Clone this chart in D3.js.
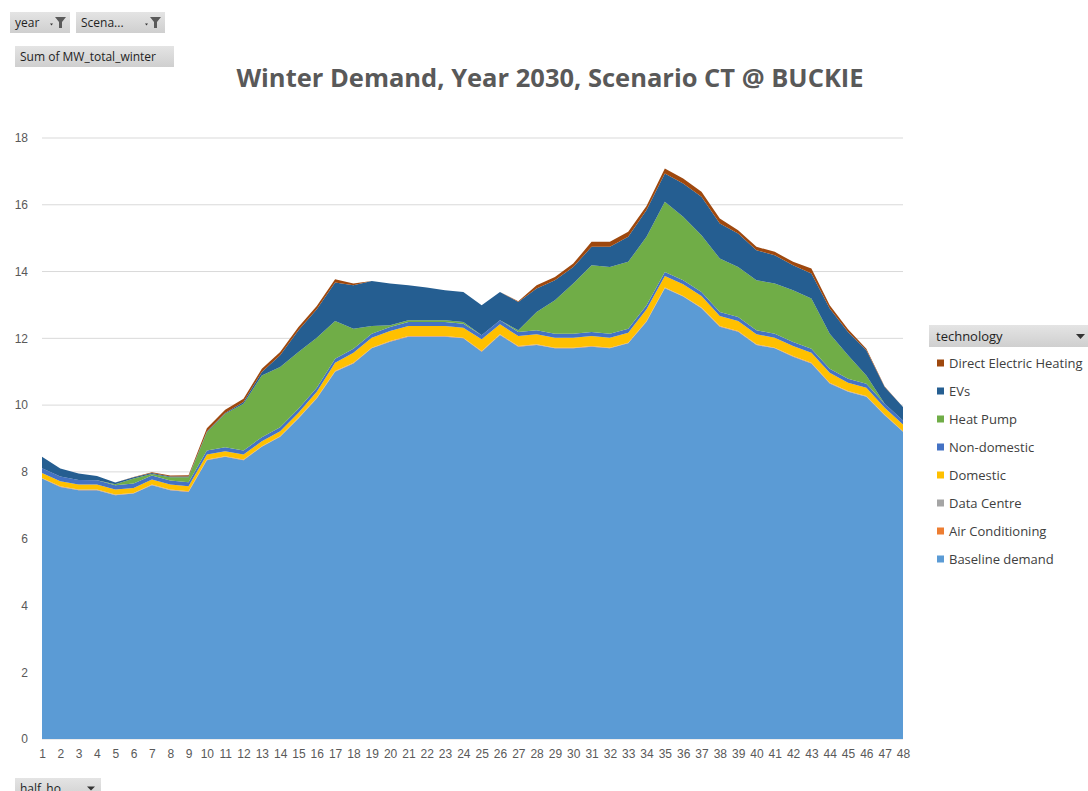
<!DOCTYPE html>
<html>
<head>
<meta charset="utf-8">
<script src="https://cdn.jsdelivr.net/npm/d3@7"></script>
<style>
  html, body { margin: 0; padding: 0; background: #fff; }
  body { width: 1088px; height: 791px; overflow: hidden; font-family: "Open Sans", "Noto Sans", sans-serif; }
</style>
</head>
<body>
<div id="chart"></div>
<script>
/* ====== Winter demand stacked area (vanilla D3) ====== */
(() => {
  const W = 1088, H = 791;

  // Data
  const halfHours = d3.range(1, 49);
  const technologies = ["Baseline demand", "Air Conditioning", "Data Centre", "Domestic",
    "Non-domestic", "Heat Pump", "EVs", "Direct Electric Heating"];
  const colors = ["#5b9bd5", "#ed7d31", "#a5a5a5", "#ffc000", "#4472c4", "#70ad47", "#255e91", "#9e480e"];
  const yTicks = [0, 2, 4, 6, 8, 10, 12, 14, 16, 18];

  const baseline = [7.8, 7.55, 7.45, 7.45, 7.3, 7.35, 7.6, 7.45, 7.4, 8.35, 8.45, 8.35, 8.75, 9.05, 9.6, 10.2,
    11.0, 11.25, 11.7, 11.9, 12.05, 12.05, 12.05, 12.0, 11.6, 12.1, 11.75, 11.8, 11.7, 11.7, 11.75, 11.7,
    11.85, 12.5, 13.5, 13.25, 12.9, 12.35, 12.2, 11.8, 11.7, 11.45, 11.25, 10.65, 10.4, 10.25, 9.7, 9.2];
  const airCon = halfHours.map(() => 0.01);
  const dataCentre = halfHours.map(() => 0.01);
  const domestic = [0.15, 0.15, 0.15, 0.15, 0.15, 0.15, 0.15, 0.15, 0.15, 0.15, 0.15, 0.15, 0.15, 0.15, 0.15, 0.18,
    0.25, 0.3, 0.3, 0.3, 0.3, 0.3, 0.3, 0.3, 0.35, 0.3, 0.3, 0.3, 0.3, 0.3, 0.3, 0.3,
    0.3, 0.35, 0.35, 0.35, 0.35, 0.3, 0.3, 0.3, 0.3, 0.3, 0.3, 0.3, 0.25, 0.25, 0.2, 0.2];
  const nonDomestic = [0.14, 0.14, 0.14, 0.13, 0.13, 0.13, 0.12, 0.12, 0.12, 0.12, 0.12, 0.12, 0.12, 0.12, 0.12, 0.12,
    0.12, 0.12, 0.12, 0.12, 0.12, 0.12, 0.12, 0.12, 0.12, 0.12, 0.12, 0.12, 0.12, 0.12, 0.12, 0.12,
    0.12, 0.12, 0.12, 0.12, 0.12, 0.12, 0.12, 0.12, 0.12, 0.12, 0.12, 0.12, 0.12, 0.12, 0.12, 0.12];
  const heatPump = [0, 0, 0, 0, 0.03, 0.15, 0.05, 0.1, 0.15, 0.55, 1.0, 1.4, 1.85, 1.8, 1.7, 1.5,
    1.13, 0.6, 0.23, 0.05, 0.05, 0.05, 0.05, 0.05, 0, 0, 0.05, 0.55, 1.0, 1.5, 2.0, 2.0,
    2.0, 2.05, 2.1, 1.9, 1.7, 1.6, 1.5, 1.5, 1.5, 1.55, 1.5, 1.05, 0.7, 0.25, 0, 0];
  const evs = [0.34, 0.24, 0.19, 0.13, 0.05, 0.04, 0.03, 0.02, 0.02, 0.02, 0.02, 0.05, 0.1, 0.35, 0.65, 0.85,
    1.15, 1.3, 1.35, 1.25, 1.05, 0.98, 0.9, 0.9, 0.9, 0.85, 0.85, 0.7, 0.6, 0.5, 0.55, 0.6,
    0.75, 0.8, 0.85, 1.0, 1.15, 1.05, 1.0, 0.9, 0.85, 0.75, 0.75, 0.75, 0.7, 0.75, 0.5, 0.4];
  const directElectric = [0, 0, 0, 0, 0, 0.01, 0.02, 0.03, 0.04, 0.1, 0.1, 0.1, 0.1, 0.1, 0.1, 0.1,
    0.1, 0.05, 0, 0, 0, 0, 0, 0, 0, 0, 0.02, 0.1, 0.1, 0.1, 0.15, 0.15,
    0.15, 0.12, 0.15, 0.15, 0.15, 0.15, 0.1, 0.1, 0.1, 0.1, 0.15, 0.1, 0.08, 0.05, 0.02, 0];

  const series = [baseline, airCon, dataCentre, domestic, nonDomestic, heatPump, evs, directElectric];
  const rows = halfHours.map((h, i) => {
    const r = { hh: h };
    technologies.forEach((t, k) => { r[t] = series[k][i]; });
    return r;
  });

  // Layout
  const plot = { left: 42, right: 903, top: 138, bottom: 739 };
  const x = d3.scalePoint().domain(halfHours).range([plot.left, plot.right]);
  const y = d3.scaleLinear().domain([0, 18]).range([plot.bottom, plot.top]);
  const color = d3.scaleOrdinal(technologies, colors);

  const svg = d3.select("#chart").append("svg")
    .attr("width", W).attr("height", H)
    .style("font-family", "'Open Sans', 'Noto Sans', sans-serif");

  const defs = svg.append("defs");
  const grad = defs.append("linearGradient").attr("id", "btn").attr("x1", 0).attr("x2", 0).attr("y1", 0).attr("y2", 1);
  grad.append("stop").attr("offset", "0%").attr("stop-color", "#e4e4e4");
  grad.append("stop").attr("offset", "100%").attr("stop-color", "#cfcfcf");

  // gridlines
  svg.append("g")
    .selectAll("line").data(yTicks).join("line")
    .attr("x1", plot.left).attr("x2", plot.right)
    .attr("y1", d => y(d)).attr("y2", d => y(d))
    .attr("stroke", "#d9d9d9").attr("stroke-width", 1);

  // areas
  const stack = d3.stack().keys(technologies);
  const layers = stack(rows);
  const area = d3.area()
    .x(d => x(d.data.hh))
    .y0(d => y(d[0]))
    .y1(d => y(d[1]));
  svg.append("g")
    .selectAll("path").data(layers).join("path")
    .attr("d", area)
    .attr("fill", d => color(d.key));

  // y axis
  const yAxis = svg.append("g")
    .attr("transform", `translate(${plot.left - 14},0)`)
    .call(d3.axisLeft(y).tickValues(yTicks).tickSize(0).tickPadding(0));
  yAxis.select(".domain").remove();
  yAxis.selectAll("text").attr("fill", "#595959").style("font-size", "12px");

  // x axis
  const xAxis = svg.append("g")
    .attr("transform", `translate(0,${plot.bottom + 10})`)
    .call(d3.axisBottom(x).tickSize(0).tickPadding(0));
  xAxis.select(".domain").remove();
  xAxis.selectAll("text").attr("fill", "#595959").style("font-size", "12px").attr("dy", "0.71em");

  // title
  svg.append("text")
    .attr("x", 550).attr("y", 87)
    .attr("text-anchor", "middle")
    .attr("fill", "#595959")
    .style("font-size", "25.5px").style("font-weight", "bold")
    .text("Winter Demand, Year 2030, Scenario CT @ BUCKIE");

  // pivot buttons
  const button = (bx, by, bw, bh, label, icon) => {
    const b = svg.append("g").attr("transform", `translate(${bx},${by})`);
    b.append("rect").attr("width", bw).attr("height", bh).attr("fill", "url(#btn)");
    b.append("text").attr("x", 5).attr("y", bh / 2 + 4)
      .attr("fill", "#1f1f1f").style("font-size", "12px").text(label);
    if (icon === "filter") {
      const ix = bw - 20;
      b.append("path").attr("d", `M${ix},${bh / 2 + 1} l3,0 l-1.5,2 z`).attr("fill", "#333");
      b.append("path").attr("d", `M${ix + 5},${5} l11,0 l-4,5 l0,6 l-3,0 l0,-6 z`).attr("fill", "#5a5a5a");
    } else if (icon === "drop") {
      b.append("path").attr("d", `M${bw - 14},${bh / 2 - 2} l8,0 l-4,4 z`).attr("fill", "#333");
    }
    return b;
  };
  button(10, 12, 60, 21, "year", "filter");
  button(76, 12, 89, 21, "Scena...", "filter");
  button(15, 46, 159, 21, "Sum of MW_total_winter");
  button(15, 778, 86, 21, "half_ho...", "drop");

  // legend
  const lg = svg.append("g").attr("transform", "translate(929,325)");
  lg.append("rect").attr("width", 159).attr("height", 22).attr("fill", "url(#btn)");
  lg.append("text").attr("x", 7).attr("y", 16).attr("fill", "#1f1f1f").style("font-size", "13px").text("technology");
  lg.append("path").attr("d", "M147,9 l9,0 l-4.5,5 z").attr("fill", "#333");

  const legendOrder = technologies.slice().reverse();
  const item = lg.selectAll("g.item").data(legendOrder).join("g")
    .attr("class", "item")
    .attr("transform", (d, i) => `translate(8,${38 + i * 28})`);
  item.append("rect").attr("width", 7).attr("height", 7).attr("y", -3.5).attr("fill", d => color(d));
  item.append("text").attr("x", 12).attr("y", 4.5)
    .attr("fill", "#404040").style("font-size", "13px").text(d => d);
})();
</script>
</body>
</html>
